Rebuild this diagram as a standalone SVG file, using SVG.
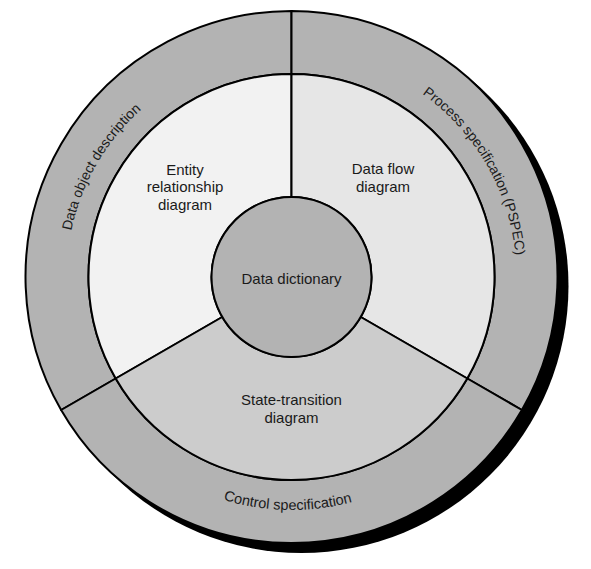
<svg xmlns="http://www.w3.org/2000/svg" xmlns:xlink="http://www.w3.org/1999/xlink" width="591" height="569" viewBox="0 0 591 569">
<style>
.shape{stroke:#000;stroke-width:2;stroke-linejoin:round}
.ring{fill:#b3b3b3}
.lbl{font-family:"Liberation Sans",Arial,sans-serif;font-size:15px;fill:#1a1a1a;text-anchor:middle}
.rlbl{font-family:"Liberation Sans",Arial,sans-serif;font-size:14px;fill:#1a1a1a;text-anchor:middle}
</style>
<defs>
<path id="arcLeft" d="M 96.64 389.5 A 225 225 0 0 1 291.5 52"/>
<path id="arcRight" d="M 291.5 52 A 225 225 0 0 1 486.36 389.5"/>
<path id="arcBottom" d="M 89.72 393.5 A 233 233 0 0 0 493.28 393.5"/>
</defs>
<rect width="591" height="569" fill="#fff"/>
<circle id="shadow" cx="301.5" cy="286" r="267" fill="#000"/>

<g id="data-object-description">
<path class="shape ring" d="M 61.14 410 A 266 266 0 0 1 291.5 11 L 291.5 74 A 203 203 0 0 0 115.7 378.5 Z"/>
<text class="rlbl"><textPath xlink:href="#arcLeft" href="#arcLeft" startOffset="50%">Data object description</textPath></text>
</g>
<g id="process-specification">
<path class="shape ring" d="M 291.5 11 A 266 266 0 0 1 521.86 410 L 467.3 378.5 A 203 203 0 0 0 291.5 74 Z"/>
<text class="rlbl"><textPath xlink:href="#arcRight" href="#arcRight" startOffset="50%">Process specification (PSPEC)</textPath></text>
</g>
<g id="control-specification">
<path class="shape ring" d="M 521.86 410 A 266 266 0 0 1 61.14 410 L 115.7 378.5 A 203 203 0 0 0 467.3 378.5 Z"/>
<text class="rlbl" style="font-size:14.5px"><textPath xlink:href="#arcBottom" href="#arcBottom" startOffset="49.2%">Control specification</textPath></text>
</g>

<g id="entity-relationship-diagram">
<path class="shape" fill="#f2f2f2" d="M 115.7 378.5 A 203 203 0 0 1 291.5 74 L 291.5 197 A 80 80 0 0 0 222.22 317 Z"/>
<text class="lbl" x="185" y="175">Entity</text>
<text class="lbl" x="185" y="192">relationship</text>
<text class="lbl" x="185" y="210">diagram</text>
</g>
<g id="data-flow-diagram">
<path class="shape" fill="#e6e6e6" d="M 291.5 74 A 203 203 0 0 1 467.3 378.5 L 360.78 317 A 80 80 0 0 0 291.5 197 Z"/>
<text class="lbl" x="383" y="174">Data flow</text>
<text class="lbl" x="383" y="192">diagram</text>
</g>
<g id="state-transition-diagram">
<path class="shape" fill="#cccccc" d="M 467.3 378.5 A 203 203 0 0 1 115.7 378.5 L 222.22 317 A 80 80 0 0 0 360.78 317 Z"/>
<text class="lbl" x="291.5" y="405">State-transition</text>
<text class="lbl" x="291.5" y="423">diagram</text>
</g>
<g id="data-dictionary">
<circle class="shape" cx="291.5" cy="277" r="80" fill="#b3b3b3"/>
<text class="lbl" x="291.5" y="284">Data dictionary</text>
</g>
<g id="connectors"/>
</svg>
